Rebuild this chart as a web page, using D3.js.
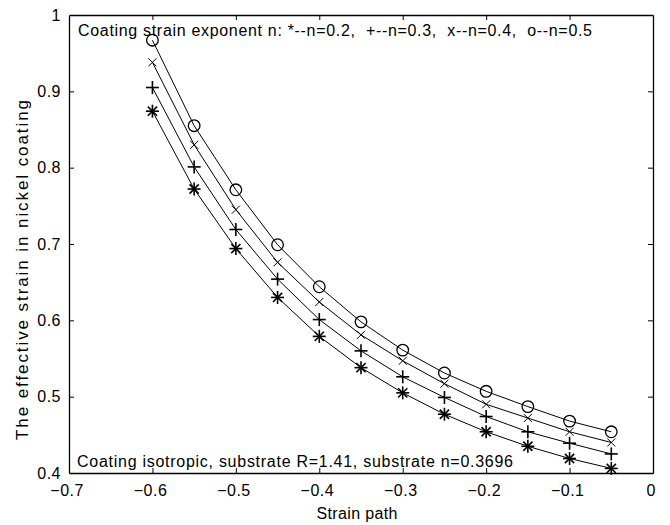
<!DOCTYPE html>
<html>
<head>
<meta charset="utf-8">
<script src="https://cdnjs.cloudflare.com/ajax/libs/d3/7.8.5/d3.min.js"></script>
<style>
  body { margin: 0; background: #fff; }
  text { font-family: "Liberation Sans", Arial, sans-serif; fill: #000; }
  .axis path, .axis line { stroke: #000; }
</style>
</head>
<body>
<div class="content"></div>
<script>
  // strain path values (x)
  var strainPath = [-0.6, -0.55, -0.5, -0.45, -0.4, -0.35, -0.3, -0.25, -0.2, -0.15, -0.1, -0.05];

  // effective strain in the coating, one array per coating exponent n
  var n02 = [0.874, 0.772, 0.694, 0.630, 0.579, 0.538, 0.505, 0.477, 0.454, 0.435, 0.419, 0.406];
  var n03 = [0.905, 0.801, 0.719, 0.654, 0.601, 0.560, 0.526, 0.499, 0.474, 0.454, 0.439, 0.425];
  var n04 = [0.938, 0.830, 0.745, 0.676, 0.624, 0.581, 0.547, 0.517, 0.490, 0.472, 0.454, 0.440];
  var n05 = [0.967, 0.855, 0.771, 0.699, 0.644, 0.598, 0.561, 0.531, 0.507, 0.487, 0.468, 0.454];

  var xTicks = [-0.7, -0.6, -0.5, -0.4, -0.3, -0.2, -0.1, 0];
  var yTicks = [0.4, 0.5, 0.6, 0.7, 0.8, 0.9, 1];

  var series = [
    {values: n02, marker: "star"},
    {values: n03, marker: "plus"},
    {values: n04, marker: "cross"},
    {values: n05, marker: "circle"}
  ];

  var margin = {top: 15, right: 17, bottom: 52, left: 69},
      width = 670 - margin.left - margin.right,
      height = 525 - margin.top - margin.bottom;

  var x = d3.scaleLinear().domain([-0.7, 0]).range([0, width]);
  var y = d3.scaleLinear().domain([0.4, 1]).range([height, 0]);

  var svg = d3.select(".content").append("svg")
      .attr("width", 670)
      .attr("height", 525)
    .append("g")
      .attr("transform", "translate(" + margin.left + "," + margin.top + ")");

  // box with inward ticks on all sides, matlab style
  var tick = 5;
  var ends = function(d) { return d === -0.7 || d === 0 || d === 0.4 || d === 1; };
  svg.append("g").attr("class", "axis")
      .attr("transform", "translate(0," + height + ")")
      .call(d3.axisBottom(x).tickValues(xTicks).tickSizeInner(-tick).tickSizeOuter(0)
        .tickFormat(function(d) { return d === 0 ? "0" : d3.format(".1f")(d); }))
      .call(function(g) {
        g.selectAll("text").attr("y", 12).attr("dx", "-0.15em").style("font-size", "16px").style("letter-spacing", "0.5px");
        g.selectAll(".tick").filter(ends).select("line").remove();
      });
  svg.append("g").attr("class", "axis")
      .call(d3.axisTop(x).tickValues(xTicks).tickSizeInner(-tick).tickSizeOuter(0).tickFormat(""))
      .call(function(g) { g.selectAll(".tick").filter(ends).select("line").remove(); });
  svg.append("g").attr("class", "axis")
      .call(d3.axisLeft(y).tickValues(yTicks).tickSizeInner(-tick).tickSizeOuter(0)
        .tickFormat(function(d) { return d === 1 ? "1" : d3.format(".1f")(d); }))
      .call(function(g) {
        g.selectAll("text").attr("x", -8).style("font-size", "16px").style("letter-spacing", "0.5px");
        g.selectAll(".tick").filter(ends).select("line").remove();
      });
  svg.append("g").attr("class", "axis")
      .attr("transform", "translate(" + width + ",0)")
      .call(d3.axisRight(y).tickValues(yTicks).tickSizeInner(-tick).tickSizeOuter(0).tickFormat(""))
      .call(function(g) { g.selectAll(".tick").filter(ends).select("line").remove(); });
  svg.selectAll(".axis path").attr("stroke-width", 1.3);

  var line = d3.line()
      .x(function(d, i) { return x(strainPath[i]); })
      .y(function(d) { return y(d); });

  series.forEach(function(s) {
    svg.append("path")
        .datum(s.values)
        .attr("fill", "none")
        .attr("stroke", "#000")
        .attr("stroke-width", 1)
        .attr("d", line);

    var pts = svg.selectAll(null)
        .data(s.values)
        .enter().append("g")
        .attr("transform", function(d, i) { return "translate(" + x(strainPath[i]) + "," + y(d) + ")"; });

    if (s.marker === "circle") {
      pts.append("circle").attr("r", 5.8).attr("fill", "none").attr("stroke", "#000").attr("stroke-width", 1.3);
    } else {
      var r = s.marker === "cross" ? 4 : 6.5;
      var segs = [];
      if (s.marker === "plus" || s.marker === "star") segs.push([-r, 0, r, 0], [0, -r, 0, r]);
      if (s.marker === "cross") segs.push([-r, -r, r, r], [-r, r, r, -r]);
      if (s.marker === "star") { var q = 4.6; segs.push([-q, -q, q, q], [-q, q, q, -q]); }
      segs.forEach(function(sg) {
        pts.append("line")
            .attr("x1", sg[0]).attr("y1", sg[1]).attr("x2", sg[2]).attr("y2", sg[3])
            .attr("stroke", "#000").attr("stroke-width", s.marker === "cross" ? 1 : 1.6);
      });
    }
  });

  // annotations inside the axes
  svg.append("text")
      .attr("x", 9).attr("y", 21)
      .attr("textLength", 514).attr("lengthAdjust", "spacing")
      .attr("xml:space", "preserve")
      .style("font-size", "16px")
      .text("Coating strain exponent n: *--n=0.2,  +--n=0.3,  x--n=0.4,  o--n=0.5");
  svg.append("text")
      .attr("x", 8).attr("y", height - 6)
      .attr("textLength", 436).attr("lengthAdjust", "spacing")
      .style("font-size", "16px")
      .text("Coating isotropic, substrate R=1.41, substrate n=0.3696");

  // axis labels
  svg.append("text")
      .attr("x", width / 2 - 4).attr("y", height + 46)
      .attr("text-anchor", "middle")
      .attr("textLength", 81).attr("lengthAdjust", "spacing")
      .style("font-size", "16px")
      .text("Strain path");
  svg.append("text")
      .attr("transform", "translate(-41," + (height / 2 + 26) + ") rotate(-90)")
      .attr("text-anchor", "middle")
      .attr("textLength", 340).attr("lengthAdjust", "spacing")
      .style("font-size", "17px")
      .text("The effective strain in nickel coating");
</script>
</body>
</html>
